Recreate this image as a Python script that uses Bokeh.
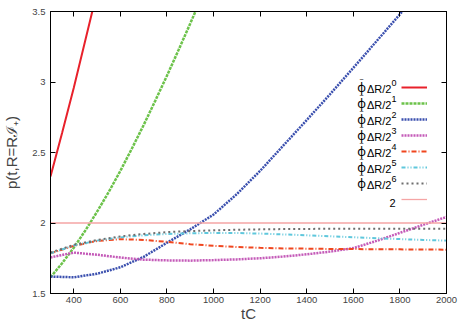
import math
from bokeh.plotting import figure
from bokeh.models import Range1d, LinearAxis, FixedTicker, Legend, LegendItem, Label
from bokeh.embed import file_html
from bokeh.resources import INLINE

# ---------------- data ----------------
t_phi0 = [300, 350, 400, 450, 500]
p_phi0 = [2.33, 2.64, 2.96, 3.30, 3.64]

t_phi1 = [300, 350, 400, 450, 500, 550, 600, 650, 700, 750, 800, 850, 900, 950]
p_phi1 = [1.615, 1.715, 1.825, 1.948, 2.08, 2.22, 2.37, 2.53, 2.695, 2.868, 3.045, 3.228, 3.415, 3.607]

t_phi2 = [300, 400, 500, 600, 700, 800, 900, 1000, 1100, 1200, 1300, 1400, 1500, 1600, 1700, 1800, 1850]
p_phi2 = [1.62, 1.615, 1.64, 1.686, 1.76, 1.86, 1.955, 2.06, 2.205, 2.37, 2.55, 2.73, 2.913, 3.10, 3.29, 3.48, 3.58]

t_grid = [300, 400, 500, 600, 700, 800, 900, 1000, 1100, 1200, 1300, 1400, 1500, 1600, 1700, 1800, 1900, 2000]
p_phi3 = [1.756, 1.79, 1.775, 1.755, 1.74, 1.735, 1.733, 1.737, 1.742, 1.75, 1.762, 1.778, 1.797, 1.822, 1.873, 1.93, 1.987, 2.043]
p_phi4 = [1.785, 1.838, 1.873, 1.885, 1.88, 1.866, 1.85, 1.838, 1.83, 1.824, 1.82, 1.818, 1.816, 1.815, 1.814, 1.813, 1.812, 1.811]
p_phi5 = [1.785, 1.84, 1.875, 1.898, 1.913, 1.922, 1.927, 1.93, 1.929, 1.925, 1.919, 1.913, 1.906, 1.899, 1.892, 1.886, 1.88, 1.875]
p_phi6 = [1.79, 1.845, 1.88, 1.905, 1.922, 1.935, 1.943, 1.948, 1.952, 1.955, 1.957, 1.958, 1.959, 1.959, 1.96, 1.96, 1.96, 1.96]

t_ref = [300, 2000]
p_ref = [2.0, 2.0]

x_ticks = [400, 600, 800, 1000, 1200, 1400, 1600, 1800, 2000]
y_ticks = [1.5, 2.0, 2.5, 3.0, 3.5]
y_tick_labels = ["1.5", "2", "2.5", "3", "3.5"]
legend_exponents = ["0", "1", "2", "3", "4", "5", "6"]
ref_label = "2"
x_title = "tC"
y_title = "p(t,R=R\u2110\u208a)"

# ---------------- figure ----------------
FONT = "Liberation Sans"
p = figure(width=463, height=324, x_range=Range1d(300, 2000), y_range=Range1d(1.5, 3.5),
           output_backend="svg", toolbar_location=None,
           min_border_left=46, min_border_right=17, min_border_top=11, min_border_bottom=29)
p.xgrid.visible = False
p.ygrid.visible = False
p.outline_line_color = "black"
p.outline_line_width = 1
p.background_fill_color = "white"
p.border_fill_color = "white"

for ax in p.xaxis:
    ax.ticker = FixedTicker(ticks=x_ticks)
    ax.major_tick_in = 5
    ax.major_tick_out = 0
    ax.minor_tick_line_color = None
    ax.major_label_text_font = FONT
    ax.major_label_text_font_size = "9.5px"
    ax.major_label_standoff = 3
    ax.axis_label = x_title
    ax.axis_label_text_font = FONT
    ax.axis_label_text_font_size = "15px"
    ax.axis_label_text_font_style = "normal"
    ax.axis_label_standoff = -1
for ax in p.yaxis:
    ax.ticker = FixedTicker(ticks=y_ticks)
    ax.major_label_overrides = {v: s for v, s in zip(y_ticks, y_tick_labels)}
    ax.major_tick_in = 5
    ax.major_tick_out = 0
    ax.minor_tick_line_color = None
    ax.major_label_text_font = FONT
    ax.major_label_text_font_size = "9.5px"
    ax.major_label_standoff = 5
    ax.axis_label = y_title
    ax.axis_label_text_font = FONT
    ax.axis_label_text_font_size = "15px"
    ax.axis_label_text_font_style = "normal"
    ax.axis_label_standoff = 9

top_axis = LinearAxis(ticker=FixedTicker(ticks=x_ticks), major_tick_in=5, major_tick_out=0,
                      minor_tick_line_color=None, major_label_text_font_size="1px",
                      major_label_text_color=None, major_label_standoff=0)
right_axis = LinearAxis(ticker=FixedTicker(ticks=y_ticks), major_tick_in=5, major_tick_out=0,
                        minor_tick_line_color=None, major_label_text_font_size="1px",
                        major_label_text_color=None, major_label_standoff=0)
p.add_layout(top_axis, "above")
p.add_layout(right_axis, "right")

# ---------------- curves ----------------
r0 = p.line(t_phi0, p_phi0, line_color="#e8212b", line_width=2)
r1 = p.line(t_phi1, p_phi1, line_color="#6cc24a", line_width=2.5, line_dash="3 1")
r2 = p.line(t_phi2, p_phi2, line_color="#3a4fae", line_width=2.5, line_dash="2 1")
r3 = p.line(t_grid, p_phi3, line_color="#c45ab8", line_width=2.5, line_dash="2 1")
r4 = p.line(t_grid, p_phi4, line_color="#f0461e", line_width=2, line_dash="5 2 1 2")
r5 = p.line(t_grid, p_phi5, line_color="#5fc7dc", line_width=2, line_dash="4 2 1 2 1 2")
r6 = p.line(t_grid, p_phi6, line_color="#6e6e6e", line_width=2, line_dash="2 3")
r7 = p.line(t_ref, p_ref, line_color="#f5a5a5", line_width=1.3)
renderers = [r0, r1, r2, r3, r4, r5, r6, r7]

legend = Legend(items=[LegendItem(label=" ", renderers=[r]) for r in renderers],
                location=(351, 86), orientation="vertical",
                glyph_width=26, glyph_height=16, label_width=0, label_height=16,
                label_standoff=0, spacing=0, padding=0, margin=0,
                label_text_font_size="1px", label_text_color=None,
                border_line_color=None, background_fill_alpha=0)
p.add_layout(legend, "center")

# legend texts (screen units relative to the frame, y upward)
FB = 295.0  # frame bottom (px)
FL = 46.0   # frame left (px)
for i, e in enumerate(legend_exponents):
    c = 88.3 + 16 * i
    p.add_layout(Label(x=357 - FL, y=FB - (c + 0.5), x_units="screen", y_units="screen",
                       text="\u03d5", text_font="Noto Sans", text_font_size="12px",
                       text_align="center", text_color="black", text_baseline="alphabetic"))
    p.add_layout(Label(x=357 - FL, y=FB - (c - 7.5), x_units="screen", y_units="screen",
                       text="~", text_font=FONT, text_font_size="7px",
                       text_align="center", text_color="black", text_baseline="alphabetic"))
    p.add_layout(Label(x=362.5 - FL, y=FB - (c + 2.5), x_units="screen", y_units="screen",
                       text="\u0394R/2", text_font=FONT, text_font_size="11px",
                       text_color="black", text_baseline="alphabetic"))
    p.add_layout(Label(x=387 - FL, y=FB - (c - 4), x_units="screen", y_units="screen",
                       text=e, text_font=FONT, text_font_size="9px",
                       text_color="black", text_baseline="alphabetic"))
c = 88.3 + 16 * 7
p.add_layout(Label(x=391 - FL, y=FB - (c + 4), x_units="screen", y_units="screen",
                   text=ref_label, text_font=FONT, text_font_size="11px", text_align="right",
                   text_color="black", text_baseline="alphabetic"))

open("out.html", "w").write(file_html(p, INLINE))
